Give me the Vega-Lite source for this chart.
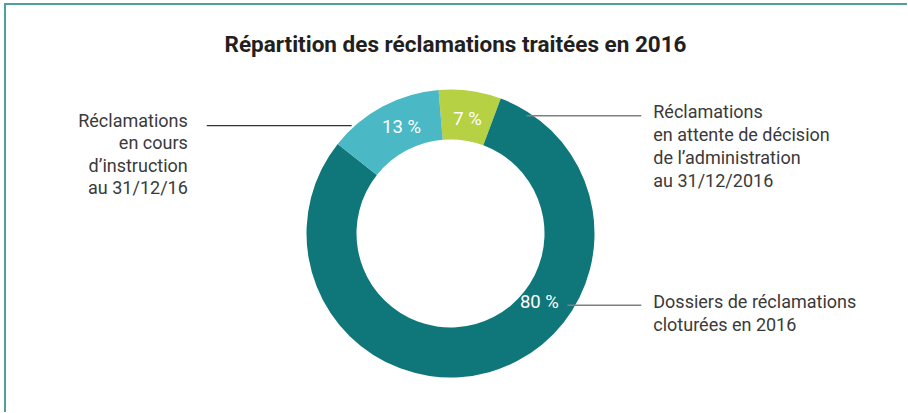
{
  "$schema": "https://vega.github.io/schema/vega-lite/v6.json",
  "width": 908,
  "height": 413,
  "padding": 0,
  "autosize": {"type": "fit", "contains": "padding"},
  "config": {"view": {"stroke": null}},
  "datasets": {
    "parts": [
      {"categorie": "Réclamations en attente de décision de l’administration au 31/12/2016", "valeur": 7},
      {"categorie": "Dossiers de réclamations cloturées en 2016", "valeur": 80},
      {"categorie": "Réclamations en cours d’instruction au 31/12/16", "valeur": 13}
    ],
    "pourcentages": [
      {"texte": "7 %", "x": 468, "y": 119},
      {"texte": "13 %", "x": 402, "y": 127},
      {"texte": "80 %", "x": 540, "y": 303}
    ],
    "titre": [
      {"texte": "Répartition des réclamations traitées en 2016", "x": 456, "y": 52}
    ],
    "etiquettes_gauche": [
      {"texte": "Réclamations\nen cours\nd’instruction\nau 31/12/16", "x": 188, "y": 127}
    ],
    "etiquettes_droite": [
      {"texte": "Réclamations\nen attente de décision\nde l’administration\nau 31/12/2016", "x": 654, "y": 118},
      {"texte": "Dossiers de réclamations\ncloturées en 2016", "x": 654, "y": 309}
    ],
    "repere_fonce": [
      {"x1": 207, "x2": 352, "y1": 126, "y2": 126}
    ],
    "reperes_gris": [
      {"x1": 527, "x2": 642, "y1": 116, "y2": 116},
      {"x1": 568, "x2": 642, "y1": 306, "y2": 306}
    ],
    "cadre": [
      {"x1": 4, "x2": 908, "y1": 4, "y2": 4},
      {"x1": 5, "x2": 5, "y1": 4, "y2": 413}
    ]
  },
  "layer": [
    {
      "data": {"name": "cadre"},
      "mark": {"type": "rule", "color": "#4f9ea0", "strokeWidth": 2},
      "encoding": {
        "x": {"field": "x1", "type": "quantitative", "scale": {"domain": [0, 908]}, "axis": null},
        "x2": {"field": "x2"},
        "y": {"field": "y1", "type": "quantitative", "scale": {"domain": [0, 413], "reverse": true}, "axis": null},
        "y2": {"field": "y2"}
      }
    },
    {
      "data": {"name": "parts"},
      "mark": {"type": "arc", "innerRadius": 94, "outerRadius": 144},
      "encoding": {
        "x": {"datum": 451, "type": "quantitative", "scale": {"domain": [0, 908]}, "axis": null},
        "y": {"datum": 234, "type": "quantitative", "scale": {"domain": [0, 413], "reverse": true}, "axis": null},
        "theta": {"field": "valeur", "type": "quantitative", "stack": true, "scale": {"range": [-0.9, 5.3832]}},
        "color": {
          "field": "categorie",
          "type": "nominal",
          "scale": {
            "domain": [
              "Réclamations en attente de décision de l’administration au 31/12/2016",
              "Dossiers de réclamations cloturées en 2016",
              "Réclamations en cours d’instruction au 31/12/16"
            ],
            "range": ["#b6d143", "#0f777a", "#4bb8c6"]
          },
          "legend": null
        },
        "order": {"field": "categorie", "sort": "descending"}
      }
    },
    {
      "data": {"name": "pourcentages"},
      "mark": {"type": "text", "font": "Roboto", "fontSize": 18.5, "color": "white", "align": "center", "baseline": "middle"},
      "encoding": {
        "x": {"field": "x", "type": "quantitative", "scale": {"domain": [0, 908]}, "axis": null},
        "y": {"field": "y", "type": "quantitative", "scale": {"domain": [0, 413], "reverse": true}, "axis": null},
        "text": {"field": "texte"}
      }
    },
    {
      "data": {"name": "titre"},
      "mark": {"type": "text", "font": "Roboto", "fontWeight": "bold", "fontSize": 22.5, "color": "#231f20", "align": "center", "baseline": "alphabetic"},
      "encoding": {
        "x": {"field": "x", "type": "quantitative", "scale": {"domain": [0, 908]}, "axis": null},
        "y": {"field": "y", "type": "quantitative", "scale": {"domain": [0, 413], "reverse": true}, "axis": null},
        "text": {"field": "texte"}
      }
    },
    {
      "data": {"name": "etiquettes_gauche"},
      "mark": {"type": "text", "font": "Roboto", "fontSize": 18, "color": "#3a3a3a", "align": "right", "baseline": "alphabetic", "lineBreak": "\n", "lineHeight": 22.5},
      "encoding": {
        "x": {"field": "x", "type": "quantitative", "scale": {"domain": [0, 908]}, "axis": null},
        "y": {"field": "y", "type": "quantitative", "scale": {"domain": [0, 413], "reverse": true}, "axis": null},
        "text": {"field": "texte"}
      }
    },
    {
      "data": {"name": "etiquettes_droite"},
      "mark": {"type": "text", "font": "Roboto", "fontSize": 18, "color": "#3a3a3a", "align": "left", "baseline": "alphabetic", "lineBreak": "\n", "lineHeight": 23},
      "encoding": {
        "x": {"field": "x", "type": "quantitative", "scale": {"domain": [0, 908]}, "axis": null},
        "y": {"field": "y", "type": "quantitative", "scale": {"domain": [0, 413], "reverse": true}, "axis": null},
        "text": {"field": "texte"}
      }
    },
    {
      "data": {"name": "repere_fonce"},
      "mark": {"type": "rule", "color": "#333333", "strokeWidth": 1.2},
      "encoding": {
        "x": {"field": "x1", "type": "quantitative", "scale": {"domain": [0, 908]}, "axis": null},
        "x2": {"field": "x2"},
        "y": {"field": "y1", "type": "quantitative", "scale": {"domain": [0, 413], "reverse": true}, "axis": null},
        "y2": {"field": "y2"}
      }
    },
    {
      "data": {"name": "reperes_gris"},
      "mark": {"type": "rule", "color": "#808080", "strokeWidth": 1.5},
      "encoding": {
        "x": {"field": "x1", "type": "quantitative", "scale": {"domain": [0, 908]}, "axis": null},
        "x2": {"field": "x2"},
        "y": {"field": "y1", "type": "quantitative", "scale": {"domain": [0, 413], "reverse": true}, "axis": null},
        "y2": {"field": "y2"}
      }
    }
  ]
}
